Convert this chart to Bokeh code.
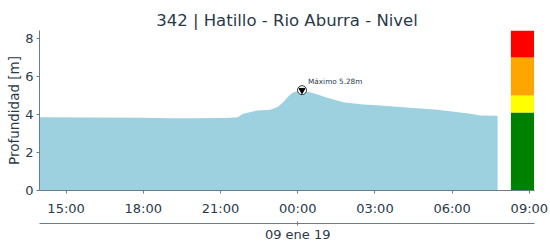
import pandas as pd
from bokeh.plotting import figure
from bokeh.models import (Range1d, DatetimeAxis, LinearAxis, FixedTicker,
                          DatetimeTickFormatter, ColumnDataSource)
from bokeh.embed import file_html
from bokeh.resources import INLINE

# ---- data ----
times = ["2019-01-08 13:58", "2019-01-08 16:00", "2019-01-08 18:00", "2019-01-08 19:00",
         "2019-01-08 20:00", "2019-01-08 21:00", "2019-01-08 21:23", "2019-01-08 21:40",
         "2019-01-08 21:53", "2019-01-08 22:26", "2019-01-08 22:56", "2019-01-08 23:13",
         "2019-01-08 23:26", "2019-01-08 23:40", "2019-01-08 23:50", "2019-01-09 00:10",
         "2019-01-09 00:37", "2019-01-09 01:09", "2019-01-09 01:46", "2019-01-09 02:33",
         "2019-01-09 03:13", "2019-01-09 04:06", "2019-01-09 05:26", "2019-01-09 06:43",
         "2019-01-09 07:06", "2019-01-09 07:46"]
level = [3.85, 3.84, 3.83, 3.80, 3.80, 3.82, 3.83, 3.86,
         4.04, 4.21, 4.25, 4.40, 4.65, 5.00, 5.17, 5.28,
         5.12, 4.88, 4.65, 4.53, 4.47, 4.38, 4.25, 4.04,
         3.95, 3.93]
peak_time = ["2019-01-09 00:10"]
peak_value = [5.28]
peak_label = ["Máximo 5.28m"]

bar_left = ["2019-01-09 08:17"] * 4
bar_right = ["2019-01-09 09:11"] * 4
bar_bottom = [0.0, 4.1, 5.0, 7.0]
bar_top = [4.1, 5.0, 7.0, 8.42]
bar_colors = ["green", "yellow", "orange", "red"]

tick_times = ["2019-01-08 15:00", "2019-01-08 18:00", "2019-01-08 21:00", "2019-01-09 00:00",
              "2019-01-09 03:00", "2019-01-09 06:00", "2019-01-09 09:00"]
day_tick = "2019-01-09 00:00"
day_label = "09 ene 19"
x_start = "2019-01-08 13:58"
x_end = "2019-01-09 09:12"
y_max = 8.42

TXT = "#2a3a4a"
AX = "#6a7b8a"
FONT = "DejaVu Sans"

def ms(s):
    return pd.Timestamp(s).value / 1e6

t = pd.to_datetime(times)
src = ColumnDataSource(dict(t=t, y=level, y0=[0] * len(level)))

p = figure(frame_width=495, frame_height=160, output_backend="svg", toolbar_location=None,
           x_axis_type=None, x_range=Range1d(ms(x_start), ms(x_end)),
           y_range=Range1d(0, y_max),
           min_border_left=39, min_border_right=15, min_border_top=30, min_border_bottom=5)
p.outline_line_color = None
p.grid.visible = False
p.background_fill_color = "white"

p.title.text = "342 | Hatillo - Rio Aburra - Nivel"
p.title.align = "center"
p.title.text_font = FONT
p.title.text_font_size = "16.5px"
p.title.text_font_style = "normal"
p.title.text_color = TXT
p.title.standoff = 2

p.varea(x="t", y1="y0", y2="y", source=src, fill_color="#9ed1df")

p.quad(left=pd.to_datetime(bar_left), right=pd.to_datetime(bar_right),
       bottom=bar_bottom, top=bar_top, fill_color=bar_colors, line_color=None)

pt = pd.to_datetime(peak_time)
p.scatter(x=pt, y=peak_value, marker="circle", size=9, fill_color="white",
          line_color="#333333", line_width=1)
p.scatter(x=pt, y=peak_value, marker="inverted_triangle", size=6, fill_color="black",
          line_color="black")
p.text(x=pt, y=peak_value, text=peak_label, x_offset=6, y_offset=-4,
       text_font_size="7.3px", text_font={"value": FONT}, text_color=TXT,
       text_baseline="bottom", text_align="left")

# y axis
ya = p.yaxis[0]
ya.ticker = FixedTicker(ticks=[0, 2, 4, 6, 8])
ya.axis_label = "Profundidad [m]"
ya.axis_label_text_font = FONT
ya.axis_label_text_font_size = "13.5px"
ya.axis_label_text_font_style = "normal"
ya.axis_label_text_color = TXT
ya.axis_label_standoff = 0
ya.major_label_text_font = FONT
ya.major_label_text_font_size = "13px"
ya.major_label_text_color = TXT
ya.major_label_standoff = 3
ya.axis_line_color = AX
ya.major_tick_line_color = AX
ya.major_tick_out = 3
ya.major_tick_in = 0
ya.minor_tick_line_color = None

# time axis
fmt = DatetimeTickFormatter(hours="%H:%M", hourmin="%H:%M", days="%H:%M",
                            minutes="%H:%M", minsec="%H:%M")
xa = DatetimeAxis(ticker=FixedTicker(ticks=[ms(s) for s in tick_times]), formatter=fmt)
xa.major_label_text_font = FONT
xa.major_label_text_font_size = "13px"
xa.major_label_text_color = TXT
xa.major_label_standoff = 7
xa.axis_line_color = AX
xa.major_tick_line_color = AX
xa.major_tick_out = 3
xa.major_tick_in = 0
xa.minor_tick_line_color = None
xa.axis_label = " "
xa.axis_label_text_font_size = "2px"
xa.axis_label_standoff = 0
p.add_layout(xa, "below")

# day axis
da = LinearAxis(ticker=FixedTicker(ticks=[ms(day_tick)]),
                major_label_overrides={ms(day_tick): day_label})
da.major_label_text_font = FONT
da.major_label_text_font_size = "13px"
da.major_label_text_color = TXT
da.major_label_standoff = 1
da.axis_line_color = AX
da.major_tick_line_color = AX
da.major_tick_out = 2
da.major_tick_in = 2
da.minor_tick_line_color = None
p.add_layout(da, "below")

open("out.html", "w").write(file_html(p, INLINE))
